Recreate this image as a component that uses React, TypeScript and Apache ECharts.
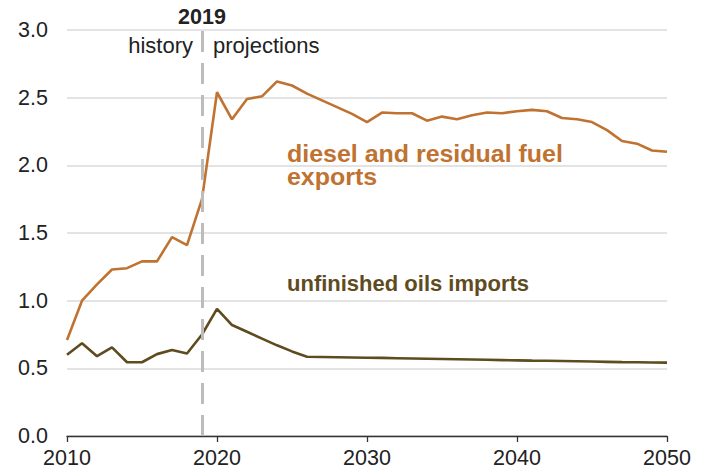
import React, { useEffect, useRef } from "react";
import * as echarts from "echarts";

const years: number[] = [
  2010, 2011, 2012, 2013, 2014, 2015, 2016, 2017, 2018, 2019,
  2020, 2021, 2022, 2023, 2024, 2025, 2026, 2027, 2028, 2029,
  2030, 2031, 2032, 2033, 2034, 2035, 2036, 2037, 2038, 2039,
  2040, 2041, 2042, 2043, 2044, 2045, 2046, 2047, 2048, 2049, 2050,
];

const dieselExports: number[] = [
  0.71, 1.0, 1.12, 1.23, 1.24, 1.29, 1.29, 1.47, 1.41, 1.75,
  2.54, 2.34, 2.49, 2.51, 2.62, 2.59, 2.53, 2.48, 2.43, 2.38,
  2.32, 2.39, 2.385, 2.385, 2.33, 2.36, 2.34, 2.37, 2.39, 2.385,
  2.4, 2.41, 2.4, 2.35, 2.34, 2.32, 2.26, 2.18, 2.16, 2.11, 2.1,
];

const unfinishedImports: number[] = [
  0.6, 0.685, 0.59, 0.655, 0.545, 0.545, 0.605, 0.635, 0.61, 0.75,
  0.94, 0.82, 0.77, 0.72, 0.67, 0.625, 0.586, 0.584, 0.582, 0.58,
  0.578, 0.577, 0.575, 0.573, 0.571, 0.569, 0.567, 0.565, 0.563, 0.561,
  0.559, 0.557, 0.556, 0.554, 0.552, 0.55, 0.548, 0.546, 0.545, 0.543, 0.542,
];

const xTicks = { min: 2010, max: 2050, interval: 10 };
const yTicks = { min: 0, max: 3, interval: 0.5 };
const dividerYear = 2019;

const FONT = "'Liberation Sans', Arial, Helvetica, sans-serif";
const ORANGE = "#c07230";
const BROWN = "#5e4b1e";

export default function App() {
  const ref = useRef<HTMLDivElement>(null);

  useEffect(() => {
    document.body.style.margin = "0";
    if (!ref.current) return;
    const chart = echarts.init(ref.current, null, { renderer: "svg" });
    const dieselData = years.map((y, i) => [y, dieselExports[i]]);
    const unfData = years.map((y, i) => [y, unfinishedImports[i]]);

    chart.setOption({
      animation: false,
      grid: { left: 67, right: 42, top: 30, bottom: 38, containLabel: false },
      xAxis: {
        type: "value",
        min: xTicks.min,
        max: xTicks.max,
        interval: xTicks.interval,
        axisLine: { show: true, lineStyle: { color: "#333333", width: 1.3 } },
        axisTick: { show: true, length: 6, lineStyle: { color: "#333333", width: 1.3 } },
        splitLine: { show: false },
        axisLabel: {
          color: "#222222",
          fontSize: 21.5,
          fontFamily: FONT,
          margin: 11,
          formatter: (v: number) => String(v),
        },
      },
      yAxis: {
        type: "value",
        min: yTicks.min,
        max: yTicks.max,
        interval: yTicks.interval,
        axisLine: { show: false },
        axisTick: { show: false },
        splitLine: { show: true, lineStyle: { color: "#dadada", width: 1.5 } },
        axisLabel: {
          color: "#222222",
          fontSize: 21.5,
          fontFamily: FONT,
          margin: 19,
          formatter: (v: number) => v.toFixed(1),
        },
      },
      series: [
        {
          type: "line",
          data: [[dividerYear, 0]],
          symbol: "none",
          lineStyle: { opacity: 0 },
          silent: true,
          markLine: {
            silent: true,
            symbol: "none",
            label: { show: false },
            lineStyle: { color: "#bcbcbc", width: 3, type: [21, 11] },
            data: [{ xAxis: dividerYear }],
          },
        },
        {
          type: "line",
          data: dieselData,
          symbol: "none",
          lineStyle: { color: ORANGE, width: 2.6 },
          z: 3,
        },
        {
          type: "line",
          data: unfData,
          symbol: "none",
          lineStyle: { color: BROWN, width: 2.6 },
          z: 3,
        },
      ],
      graphic: [
        {
          type: "text",
          x: 202,
          y: 17,
          style: {
            text: "2019",
            fill: "#222222",
            font: `bold 21.5px ${FONT}`,
            align: "center",
            verticalAlign: "middle",
          },
        },
        {
          type: "text",
          x: 193,
          y: 45,
          style: {
            text: "history",
            fill: "#222222",
            font: `22px ${FONT}`,
            align: "right",
            verticalAlign: "middle",
          },
        },
        {
          type: "text",
          x: 213,
          y: 45,
          style: {
            text: "projections",
            fill: "#222222",
            font: `22px ${FONT}`,
            align: "left",
            verticalAlign: "middle",
          },
        },
        {
          type: "text",
          x: 287,
          y: 154,
          style: {
            text: "diesel and residual fuel",
            fill: ORANGE,
            font: `bold 24px ${FONT}`,
            align: "left",
            verticalAlign: "middle",
          },
          scaleX: 1.04,
        },
        {
          type: "text",
          x: 287,
          y: 177,
          style: {
            text: "exports",
            fill: ORANGE,
            font: `bold 24px ${FONT}`,
            align: "left",
            verticalAlign: "middle",
          },
          scaleX: 1.04,
        },
        {
          type: "text",
          x: 287,
          y: 283,
          style: {
            text: "unfinished oils imports",
            fill: BROWN,
            font: `bold 22px ${FONT}`,
            align: "left",
            verticalAlign: "middle",
          },
        },
      ],
    });

    return () => {
      chart.dispose();
    };
  }, []);

  return <div ref={ref} style={{ width: 709, height: 474 }} />;
}
